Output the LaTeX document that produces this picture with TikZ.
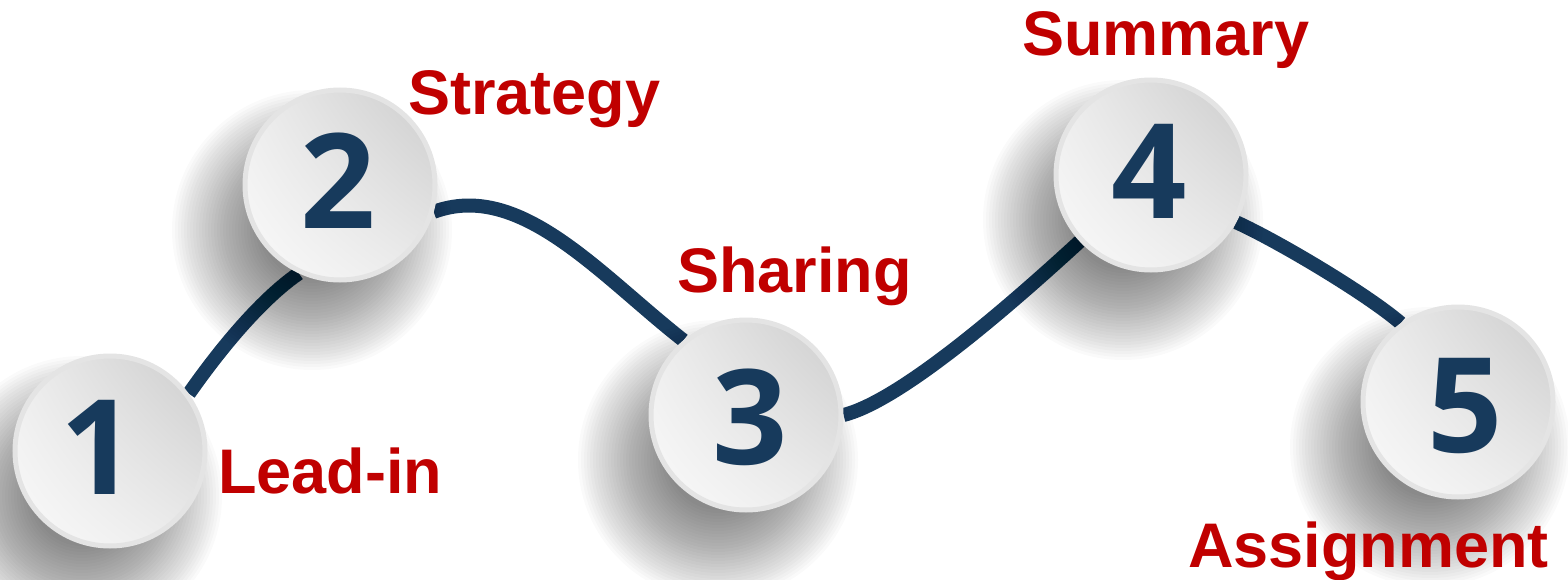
\documentclass[tikz,border=0pt]{standalone}
\usepackage{fontspec}
\setmainfont{Liberation Sans}
\newfontfamily\numfont{Open Sans}
\usetikzlibrary{shadings}
\definecolor{navy}{HTML}{173A5C}
\definecolor{redlab}{HTML}{C00000}
\definecolor{ringgray}{HTML}{E4E4E4}
\pgfdeclarelayer{bg}
\pgfsetlayers{bg,main}
\tikzset{
  stepcirc/.style={circle, minimum size=190pt, inner sep=0pt, draw=ringgray, line width=5pt,
    upper right=black!20, upper left=black!7, lower left=black!2, lower right=black!8},
  numtext/.style={inner sep=0pt, text=navy, font=\numfont\bfseries\fontsize{132}{132}\selectfont},
  lab/.style={anchor=base west, inner sep=0pt, text=redlab,
    font=\bfseries\fontsize{63}{70}\selectfont},
  pathline/.style={draw=navy, line width=14pt},
  shadowdisc/.style={fill=black, fill opacity=0.018}
}
\begin{document}
\begin{tikzpicture}[x=1pt,y=1pt]
\useasboundingbox (0,0) rectangle (1568,-580);
\node[stepcirc] (c1) at (110,-451) {};
\node[stepcirc] (c2) at (340,-185) {};
\node[stepcirc] (c3) at (746,-415) {};
\node[stepcirc] (c4) at (1151,-175) {};
\node[stepcirc] (c5) at (1458,-402) {};
\node[numtext] (n1) at ([xshift=-12pt,yshift=4pt]c1.center) {1};
\node[numtext] (n2) at ([xshift=-2pt,yshift=4pt]c2.center) {2};
\node[numtext] (n3) at ([xshift=4pt,yshift=-2pt]c3.center) {3};
\node[numtext] (n4) at ([xshift=-2pt,yshift=4pt]c4.center) {4};
\node[numtext] (n5) at ([xshift=7pt,yshift=-4pt]c5.center) {5};
\begin{pgfonlayer}{bg}
  \draw[pathline] (c1.36) .. controls +(35,50) and +(-35,-24) .. (c2.245);
  \draw[pathline] (c2.344) .. controls (520,-180) and (600,-275) .. (c3.130);
  \draw[pathline] (c3.0) .. controls +(60,15) and +(-60,-55) .. (c4.223);
  \draw[pathline] (c4.331) .. controls +(40,-18) and +(-35,30) .. (c5.126);
  \foreach \cx/\cy in {110/-451, 340/-185, 746/-415, 1151/-175, 1458/-402}{
    \foreach \r in {50,53,...,140}{
      \fill[shadowdisc] (\cx-28,\cy-45) circle (\r);
    }
  }
\end{pgfonlayer}
\node[lab] (l1) at (218,-493) {Lead-in};
\node[lab] (l2) at (408,-115) {Strategy};
\node[lab] (l3) at (677,-292) {Sharing};
\node[lab] (l4) at (1022,-56) {Summary};
\node[lab] (l5) at (1188,-567) {Assignment};
\end{tikzpicture}
\end{document}
